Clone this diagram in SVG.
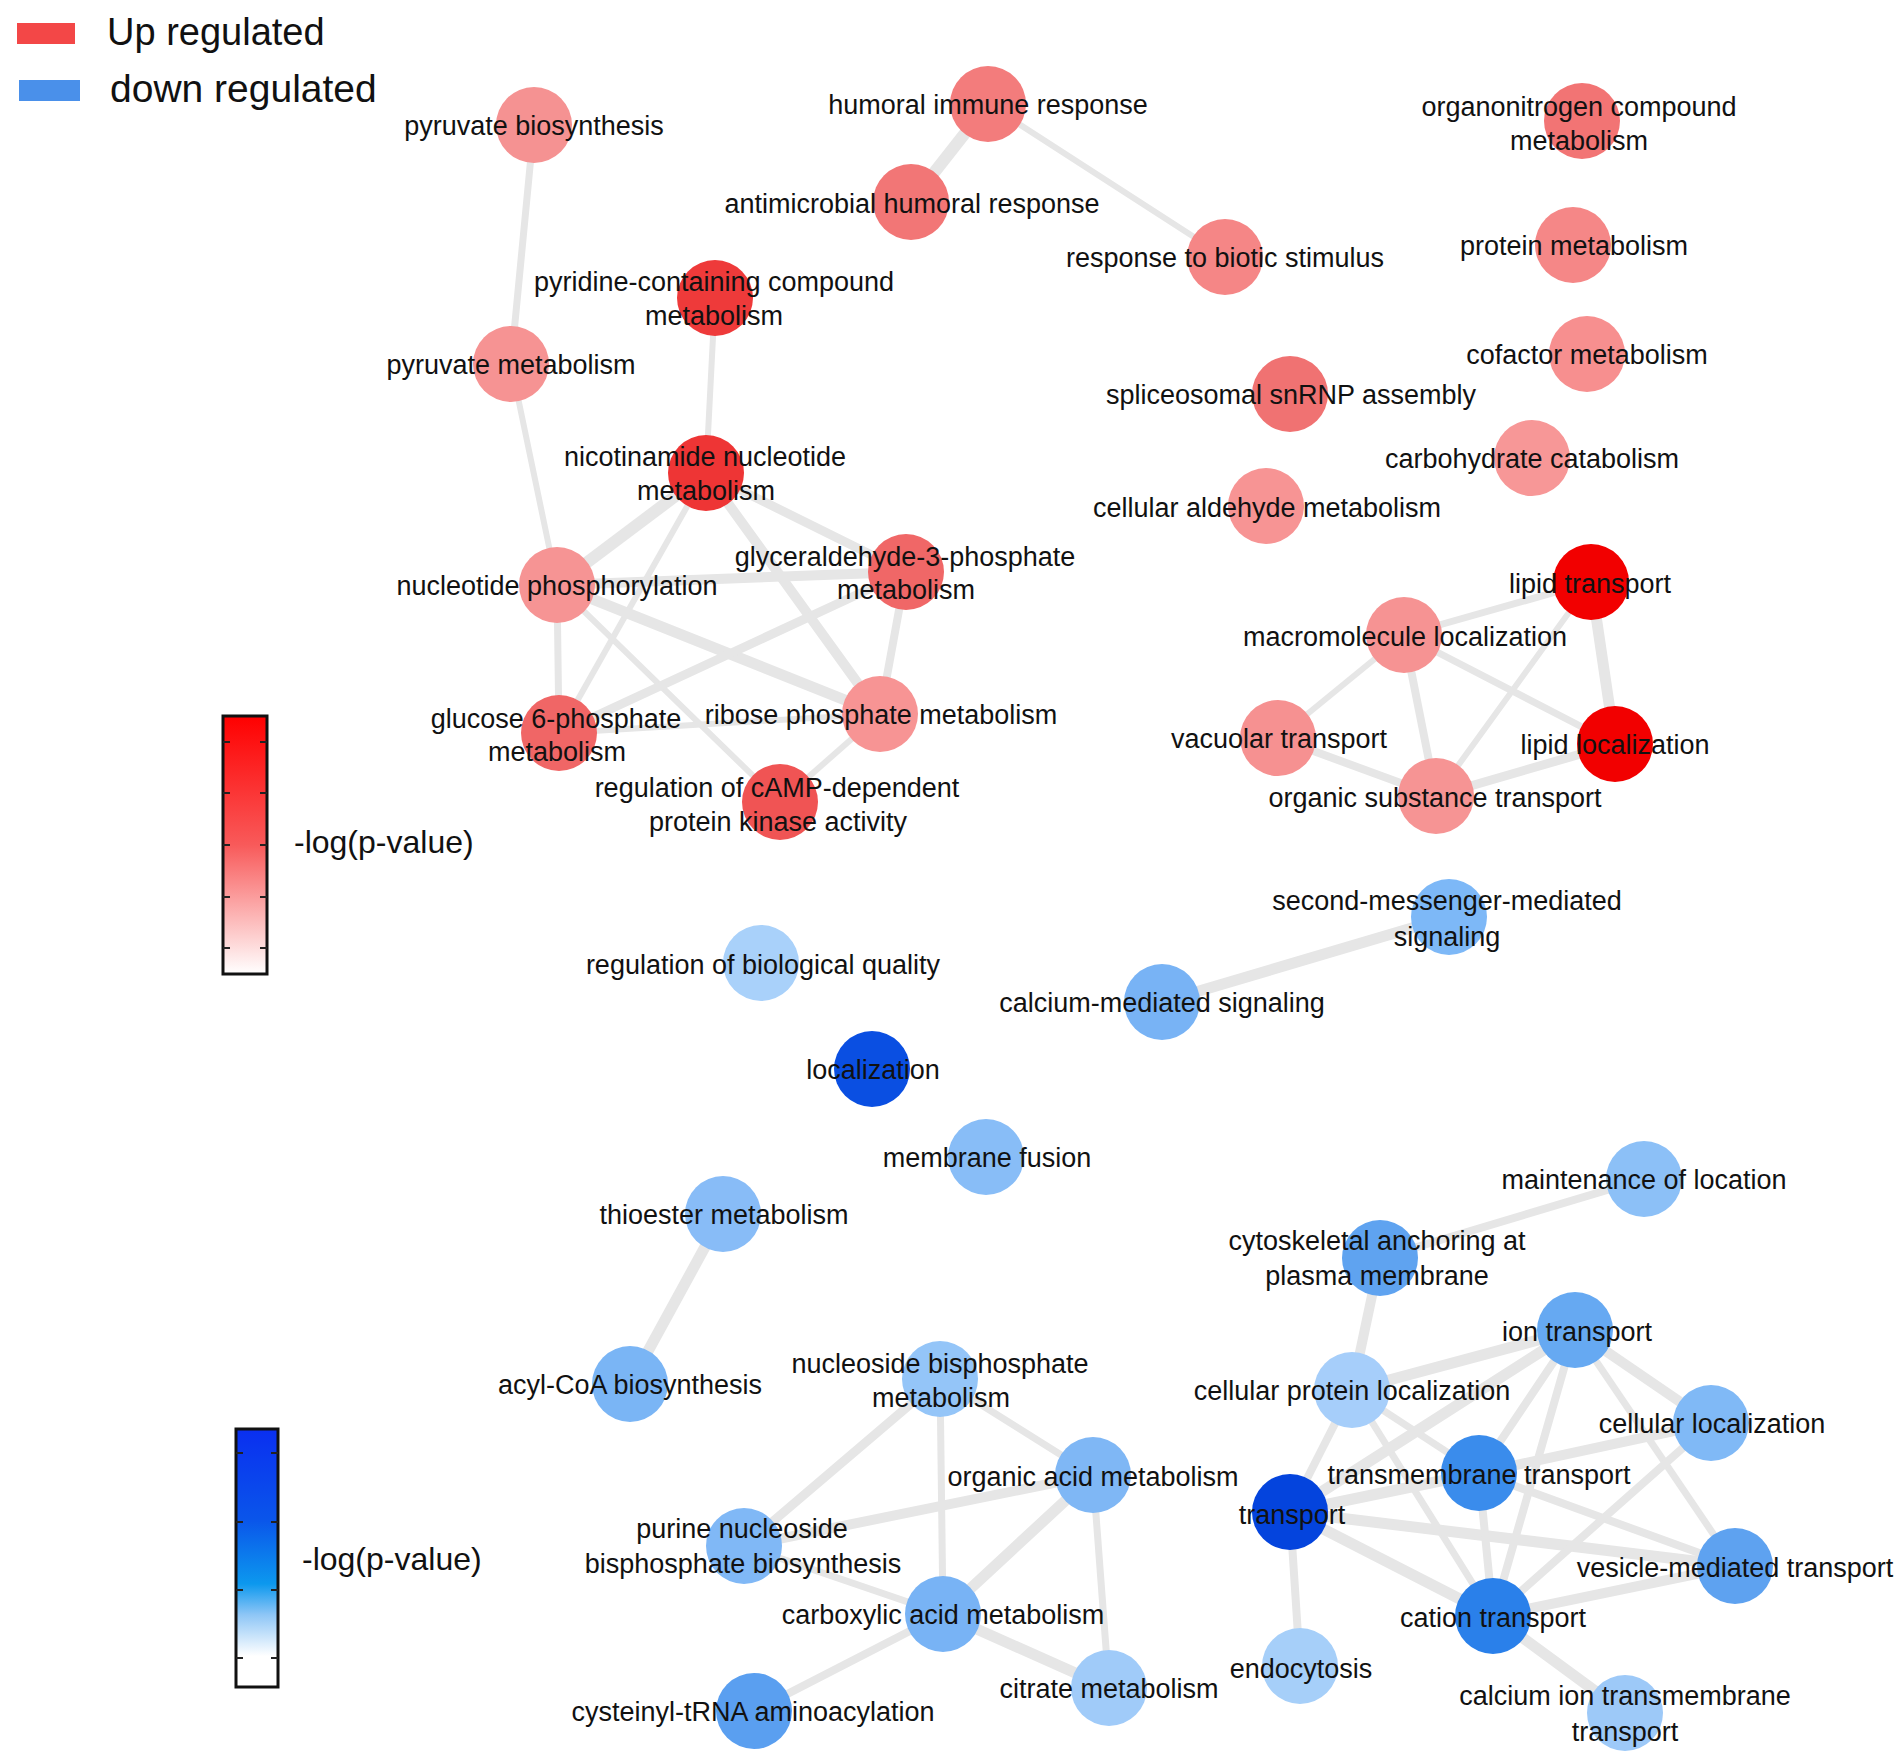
<svg xmlns="http://www.w3.org/2000/svg" width="1900" height="1760" viewBox="0 0 1900 1760">
<style>
  text { font-family: "Liberation Sans", Arial, sans-serif; fill: #111; }
  .lbl { font-size: 27px; text-anchor: middle; }
  .leg { font-size: 38px; }
  .cb { font-size: 32px; }
  .edges line { stroke: #e6e6e6; stroke-linecap: round; }
  .w6 { stroke-width: 6; } .w7 { stroke-width: 7; } .w8 { stroke-width: 8; } .w9 { stroke-width: 9; }
  .w10 { stroke-width: 10; } .w11 { stroke-width: 11; } .w12 { stroke-width: 12; }
  .tick { stroke: #222; stroke-width: 2; }
  .bar { stroke: #111; stroke-width: 3; }
</style>
<defs>
  <linearGradient id="gRed" x1="0" y1="0" x2="0" y2="1">
    <stop offset="0" stop-color="#ff0000"/>
    <stop offset="0.5" stop-color="#f85a5a"/>
    <stop offset="1" stop-color="#ffffff"/>
  </linearGradient>
  <linearGradient id="gBlue" x1="0" y1="0" x2="0" y2="1">
    <stop offset="0" stop-color="#0a2ff0"/>
    <stop offset="0.35" stop-color="#0a55ea"/>
    <stop offset="0.6" stop-color="#0c98ee"/>
    <stop offset="0.72" stop-color="#8ec6f6"/>
    <stop offset="0.88" stop-color="#ffffff"/>
    <stop offset="1" stop-color="#ffffff"/>
  </linearGradient>
</defs>
<rect width="1900" height="1760" fill="#ffffff"/>

<g id="legend">
  <rect x="17" y="23" width="58" height="21" fill="#f34747"/>
  <text class="leg" x="107" y="45">Up regulated</text>
  <rect x="19" y="80" width="61" height="21" fill="#4a90ea"/>
  <text class="leg" x="110" y="102" style="font-size:39px">down regulated</text>
</g>

<g id="colorbar-red">
  <rect class="bar" x="223" y="716" width="44" height="258" fill="url(#gRed)"/>
  <path class="tick" d="M223 742h7M260 742h7M223 793h7M260 793h7M223 845h7M260 845h7M223 897h7M260 897h7M223 948h7M260 948h7"/>
  <text class="cb" x="294" y="853">-log(p-value)</text>
</g>
<g id="colorbar-blue">
  <rect class="bar" x="236" y="1429" width="42" height="258" fill="url(#gBlue)"/>
  <path class="tick" d="M236 1453h7M271 1453h7M236 1522h7M271 1522h7M236 1590h7M271 1590h7M236 1658h7M271 1658h7"/>
  <text class="cb" x="302" y="1570">-log(p-value)</text>
</g>

<g id="connectors" class="edges">
  <line class="w7" x1="534" y1="125" x2="511" y2="364"/>
  <line class="w12" x1="988" y1="104" x2="911" y2="202"/>
  <line class="w6" x1="988" y1="104" x2="1225" y2="257"/>
  <line class="w6" x1="715" y1="298" x2="706" y2="473"/>
  <line class="w6" x1="511" y1="364" x2="557" y2="585"/>
  <line class="w12" x1="706" y1="473" x2="557" y2="585"/>
  <line class="w6" x1="706" y1="473" x2="559" y2="733"/>
  <line class="w10" x1="706" y1="473" x2="880" y2="714"/>
  <line class="w9" x1="706" y1="473" x2="906" y2="572"/>
  <line class="w10" x1="557" y1="585" x2="906" y2="572"/>
  <line class="w11" x1="557" y1="585" x2="880" y2="714"/>
  <line class="w6" x1="557" y1="585" x2="780" y2="802"/>
  <line class="w7" x1="557" y1="585" x2="559" y2="733"/>
  <line class="w9" x1="906" y1="572" x2="559" y2="733"/>
  <line class="w8" x1="906" y1="572" x2="880" y2="714"/>
  <line class="w6" x1="559" y1="733" x2="880" y2="714"/>
  <line class="w6" x1="880" y1="714" x2="780" y2="802"/>

  <line class="w7" x1="1591" y1="582" x2="1404" y2="635"/>
  <line class="w11" x1="1591" y1="582" x2="1615" y2="744"/>
  <line class="w6" x1="1591" y1="582" x2="1436" y2="796"/>
  <line class="w6" x1="1404" y1="635" x2="1278" y2="738"/>
  <line class="w8" x1="1404" y1="635" x2="1436" y2="796"/>
  <line class="w7" x1="1404" y1="635" x2="1615" y2="744"/>
  <line class="w8" x1="1278" y1="738" x2="1436" y2="796"/>
  <line class="w9" x1="1436" y1="796" x2="1615" y2="744"/>

  <line class="w11" x1="1449" y1="917" x2="1162" y2="1002"/>
  <line class="w11" x1="723" y1="1214" x2="630" y2="1384"/>
  <line class="w8" x1="1644" y1="1179" x2="1380" y2="1258"/>
  <line class="w10" x1="1380" y1="1258" x2="1352" y2="1390"/>

  <line class="w9" x1="940" y1="1379" x2="744" y2="1546"/>
  <line class="w7" x1="940" y1="1379" x2="943" y2="1614"/>
  <line class="w7" x1="940" y1="1379" x2="1093" y2="1475"/>
  <line class="w10" x1="744" y1="1546" x2="1093" y2="1475"/>
  <line class="w7" x1="744" y1="1546" x2="943" y2="1614"/>
  <line class="w11" x1="1093" y1="1475" x2="943" y2="1614"/>
  <line class="w7" x1="1093" y1="1475" x2="1109" y2="1688"/>
  <line class="w11" x1="943" y1="1614" x2="1109" y2="1688"/>
  <line class="w8" x1="943" y1="1614" x2="754" y2="1711"/>

  <line class="w11" x1="1352" y1="1390" x2="1575" y2="1330"/>
  <line class="w8" x1="1352" y1="1390" x2="1290" y2="1512"/>
  <line class="w7" x1="1352" y1="1390" x2="1479" y2="1473"/>
  <line class="w7" x1="1352" y1="1390" x2="1493" y2="1616"/>
  <line class="w11" x1="1575" y1="1330" x2="1290" y2="1512"/>
  <line class="w8" x1="1575" y1="1330" x2="1479" y2="1473"/>
  <line class="w8" x1="1575" y1="1330" x2="1493" y2="1616"/>
  <line class="w10" x1="1575" y1="1330" x2="1711" y2="1423"/>
  <line class="w7" x1="1575" y1="1330" x2="1735" y2="1566"/>
  <line class="w11" x1="1290" y1="1512" x2="1479" y2="1473"/>
  <line class="w11" x1="1290" y1="1512" x2="1735" y2="1566"/>
  <line class="w11" x1="1290" y1="1512" x2="1493" y2="1616"/>
  <line class="w8" x1="1290" y1="1512" x2="1300" y2="1666"/>
  <line class="w10" x1="1479" y1="1473" x2="1711" y2="1423"/>
  <line class="w8" x1="1479" y1="1473" x2="1493" y2="1616"/>
  <line class="w8" x1="1479" y1="1473" x2="1735" y2="1566"/>
  <line class="w8" x1="1711" y1="1423" x2="1493" y2="1616"/>
  <line class="w10" x1="1493" y1="1616" x2="1735" y2="1566"/>
  <line class="w11" x1="1493" y1="1616" x2="1625" y2="1713"/>
</g>

<g id="nodes">
  <g id="n-pyruvate-biosynthesis"><circle cx="534" cy="125" r="38" fill="#f59292"/><text class="lbl" x="534" y="135">pyruvate biosynthesis</text></g>
  <g id="n-humoral-immune-response"><circle cx="988" cy="104" r="38" fill="#f37c7c"/><text class="lbl" x="988" y="114">humoral immune response</text></g>
  <g id="n-antimicrobial-humoral-response"><circle cx="911" cy="202" r="38" fill="#f27676"/><text class="lbl" x="912" y="213">antimicrobial humoral response</text></g>
  <g id="n-response-to-biotic-stimulus"><circle cx="1225" cy="257" r="38" fill="#f58686"/><text class="lbl" x="1225" y="267">response to biotic stimulus</text></g>
  <g id="n-organonitrogen"><circle cx="1582" cy="121" r="38" fill="#f27474"/><text class="lbl" x="1579" y="116">organonitrogen compound</text><text class="lbl" x="1579" y="150">metabolism</text></g>
  <g id="n-protein-metabolism"><circle cx="1573" cy="245" r="38" fill="#f58787"/><text class="lbl" x="1574" y="255">protein metabolism</text></g>
  <g id="n-cofactor-metabolism"><circle cx="1587" cy="354" r="38" fill="#f78f8f"/><text class="lbl" x="1587" y="364">cofactor metabolism</text></g>
  <g id="n-spliceosomal"><circle cx="1290" cy="394" r="38" fill="#f07272"/><text class="lbl" x="1291" y="404">spliceosomal snRNP assembly</text></g>
  <g id="n-carbohydrate-catabolism"><circle cx="1532" cy="458" r="38" fill="#f79797"/><text class="lbl" x="1532" y="468">carbohydrate catabolism</text></g>
  <g id="n-cellular-aldehyde"><circle cx="1266" cy="506" r="38" fill="#f79494"/><text class="lbl" x="1267" y="517">cellular aldehyde metabolism</text></g>
  <g id="n-pyridine"><circle cx="715" cy="298" r="38" fill="#ee3a3a"/><text class="lbl" x="714" y="291">pyridine-containing compound</text><text class="lbl" x="714" y="325">metabolism</text></g>
  <g id="n-pyruvate-metabolism"><circle cx="511" cy="364" r="38" fill="#f69393"/><text class="lbl" x="511" y="374">pyruvate metabolism</text></g>
  <g id="n-nicotinamide"><circle cx="706" cy="473" r="38" fill="#ee3535"/><text class="lbl" x="705" y="466">nicotinamide nucleotide</text><text class="lbl" x="706" y="500">metabolism</text></g>
  <g id="n-nucleotide-phosphorylation"><circle cx="557" cy="585" r="38" fill="#f69494"/><text class="lbl" x="557" y="595">nucleotide phosphorylation</text></g>
  <g id="n-glyceraldehyde"><circle cx="906" cy="572" r="38" fill="#f06767"/><text class="lbl" x="905" y="566">glyceraldehyde-3-phosphate</text><text class="lbl" x="906" y="599">metabolism</text></g>
  <g id="n-glucose"><circle cx="559" cy="733" r="38" fill="#f06666"/><text class="lbl" x="556" y="728">glucose 6-phosphate</text><text class="lbl" x="557" y="761">metabolism</text></g>
  <g id="n-ribose"><circle cx="880" cy="714" r="38" fill="#f79494"/><text class="lbl" x="881" y="724">ribose phosphate metabolism</text></g>
  <g id="n-camp"><circle cx="780" cy="802" r="38" fill="#f05454"/><text class="lbl" x="777" y="797">regulation of cAMP-dependent</text><text class="lbl" x="778" y="831">protein kinase activity</text></g>
  <g id="n-lipid-transport"><circle cx="1591" cy="582" r="38" fill="#f20000"/><text class="lbl" x="1590" y="593">lipid transport</text></g>
  <g id="n-macromolecule"><circle cx="1404" cy="635" r="38" fill="#f69393"/><text class="lbl" x="1405" y="646">macromolecule localization</text></g>
  <g id="n-vacuolar"><circle cx="1278" cy="738" r="38" fill="#f69191"/><text class="lbl" x="1279" y="748">vacuolar transport</text></g>
  <g id="n-lipid-localization"><circle cx="1615" cy="744" r="38" fill="#f20000"/><text class="lbl" x="1615" y="754">lipid localization</text></g>
  <g id="n-organic-substance"><circle cx="1436" cy="796" r="38" fill="#f69494"/><text class="lbl" x="1435" y="807">organic substance transport</text></g>

  <g id="n-second-messenger"><circle cx="1449" cy="917" r="38" fill="#7db8f7"/><text class="lbl" x="1447" y="910">second-messenger-mediated</text><text class="lbl" x="1447" y="946">signaling</text></g>
  <g id="n-regulation-biological-quality"><circle cx="761" cy="963" r="38" fill="#a9d1fa"/><text class="lbl" x="763" y="974">regulation of biological quality</text></g>
  <g id="n-calcium-mediated"><circle cx="1162" cy="1002" r="38" fill="#78b3f5"/><text class="lbl" x="1162" y="1012">calcium-mediated signaling</text></g>
  <g id="n-localization"><circle cx="872" cy="1069" r="38" fill="#0a4fe2"/><text class="lbl" x="873" y="1079">localization</text></g>
  <g id="n-membrane-fusion"><circle cx="986" cy="1157" r="38" fill="#88bdf7"/><text class="lbl" x="987" y="1167">membrane fusion</text></g>
  <g id="n-maintenance"><circle cx="1644" cy="1179" r="38" fill="#8cc0f7"/><text class="lbl" x="1644" y="1189">maintenance of location</text></g>
  <g id="n-thioester"><circle cx="723" cy="1214" r="38" fill="#88bcf7"/><text class="lbl" x="724" y="1224">thioester metabolism</text></g>
  <g id="n-cytoskeletal"><circle cx="1380" cy="1258" r="38" fill="#5fa3f0"/><text class="lbl" x="1377" y="1250">cytoskeletal anchoring at</text><text class="lbl" x="1377" y="1285">plasma membrane</text></g>
  <g id="n-ion-transport"><circle cx="1575" cy="1330" r="38" fill="#66a9f2"/><text class="lbl" x="1577" y="1341">ion transport</text></g>
  <g id="n-acyl-coa"><circle cx="630" cy="1384" r="38" fill="#7ab5f5"/><text class="lbl" x="630" y="1394">acyl-CoA biosynthesis</text></g>
  <g id="n-nucleoside-bisphosphate"><circle cx="940" cy="1379" r="38" fill="#94c5f8"/><text class="lbl" x="940" y="1373">nucleoside bisphosphate</text><text class="lbl" x="941" y="1407">metabolism</text></g>
  <g id="n-cellular-protein-localization"><circle cx="1352" cy="1390" r="38" fill="#a6cefa"/><text class="lbl" x="1352" y="1400">cellular protein localization</text></g>
  <g id="n-cellular-localization"><circle cx="1711" cy="1423" r="38" fill="#80b9f6"/><text class="lbl" x="1712" y="1433">cellular localization</text></g>
  <g id="n-organic-acid"><circle cx="1093" cy="1475" r="38" fill="#7fb7f5"/><text class="lbl" x="1093" y="1486">organic acid metabolism</text></g>
  <g id="n-transmembrane"><circle cx="1479" cy="1473" r="38" fill="#3a8cec"/><text class="lbl" x="1479" y="1484">transmembrane transport</text></g>
  <g id="n-transport"><circle cx="1290" cy="1512" r="38" fill="#0444dd"/><text class="lbl" x="1292" y="1524">transport</text></g>
  <g id="n-purine"><circle cx="744" cy="1546" r="38" fill="#80b8f6"/><text class="lbl" x="742" y="1538">purine nucleoside</text><text class="lbl" x="743" y="1573">bisphosphate biosynthesis</text></g>
  <g id="n-vesicle"><circle cx="1735" cy="1566" r="38" fill="#5ea2f0"/><text class="lbl" x="1735" y="1577">vesicle-mediated transport</text></g>
  <g id="n-carboxylic"><circle cx="943" cy="1614" r="38" fill="#78b3f5"/><text class="lbl" x="943" y="1624">carboxylic acid metabolism</text></g>
  <g id="n-cation"><circle cx="1493" cy="1616" r="38" fill="#2a80ea"/><text class="lbl" x="1493" y="1627">cation transport</text></g>
  <g id="n-endocytosis"><circle cx="1300" cy="1666" r="38" fill="#a6cff9"/><text class="lbl" x="1301" y="1678">endocytosis</text></g>
  <g id="n-citrate"><circle cx="1109" cy="1688" r="38" fill="#a0cbf9"/><text class="lbl" x="1109" y="1698">citrate metabolism</text></g>
  <g id="n-cysteinyl"><circle cx="754" cy="1711" r="38" fill="#5a9ff0"/><text class="lbl" x="753" y="1721">cysteinyl-tRNA aminoacylation</text></g>
  <g id="n-calcium-ion"><circle cx="1625" cy="1713" r="38" fill="#9dc9f8"/><text class="lbl" x="1625" y="1705">calcium ion transmembrane</text><text class="lbl" x="1625" y="1741">transport</text></g>
</g>
</svg>
